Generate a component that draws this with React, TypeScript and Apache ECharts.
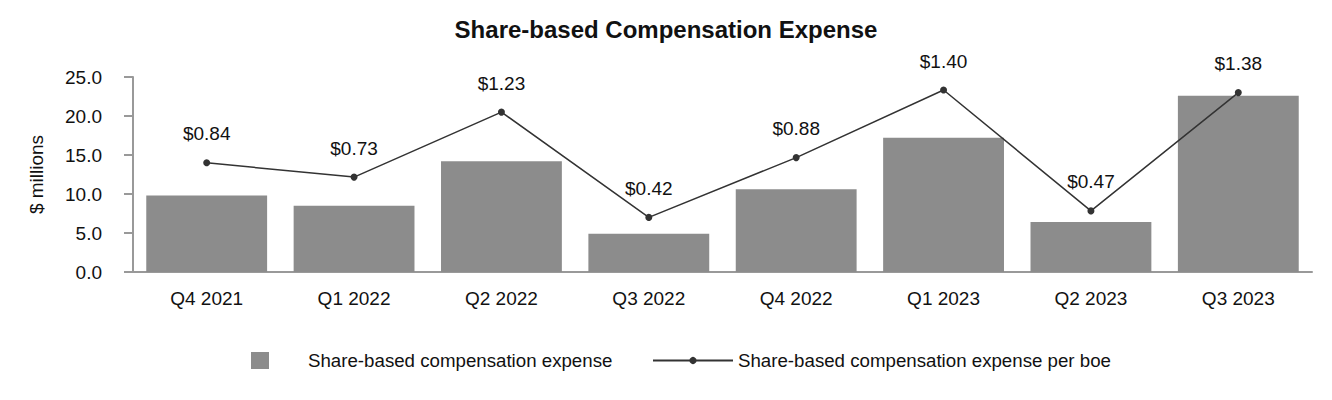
import React, { useEffect, useRef } from "react";
import * as echarts from "echarts";

const categories = ["Q4 2021", "Q1 2022", "Q2 2022", "Q3 2022", "Q4 2022", "Q1 2023", "Q2 2023", "Q3 2023"];
const expense = [9.8, 8.5, 14.2, 4.9, 10.6, 17.2, 6.4, 22.6];
const perBoe = [0.84, 0.73, 1.23, 0.42, 0.88, 1.4, 0.47, 1.38];
const yTicks = { min: 0, max: 25, interval: 5 };
const barName = "Share-based compensation expense";
const lineName = "Share-based compensation expense per boe";

export default function App() {
  const ref = useRef<HTMLDivElement>(null);
  useEffect(() => {
    document.body.style.margin = "0";
    if (!ref.current) return;
    const chart = echarts.init(ref.current, undefined, { renderer: "svg" });
    const font = "Liberation Sans, Arial, sans-serif";
    chart.setOption({
      animation: false,
      textStyle: { fontFamily: font },
      title: {
        text: "Share-based Compensation Expense",
        left: "center",
        top: 12,
        textStyle: { fontFamily: font, fontSize: 24, fontWeight: "bold", color: "#111" },
      },
      legend: [
        {
          data: [{ name: barName, icon: "rect" }],
          left: 246,
          top: 346,
          itemWidth: 18,
          itemHeight: 17,
          textStyle: { fontFamily: font, fontSize: 18.7, color: "#111", padding: [0, 0, 0, 34] },
        },
        {
          data: [{ name: lineName }],
          left: 647,
          top: 346,
          itemWidth: 80,
          itemHeight: 9,
          textStyle: { fontFamily: font, fontSize: 18.7, color: "#111" },
        },
      ],
      grid: { left: 133, right: 20, top: 77, bottom: 128 },
      xAxis: {
        type: "category",
        data: categories,
        axisLine: { lineStyle: { color: "#999", width: 2 } },
        axisTick: { alignWithLabel: true, length: 8, lineStyle: { color: "#999", width: 2 } },
        axisLabel: { fontFamily: font, fontSize: 19, color: "#111", margin: 17 },
      },
      yAxis: [
        {
          type: "value",
          min: yTicks.min,
          max: yTicks.max,
          interval: yTicks.interval,
          name: "$ millions",
          nameLocation: "middle",
          nameGap: 87,
          nameTextStyle: { fontFamily: font, fontSize: 19, color: "#111" },
          axisLine: { show: true, lineStyle: { color: "#999", width: 2 } },
          axisTick: { show: true, inside: false, length: 9, lineStyle: { color: "#999", width: 2 } },
          splitLine: { show: false },
          axisLabel: {
            fontFamily: font,
            fontSize: 19,
            color: "#111",
            margin: 31,
            formatter: (v: number) => v.toFixed(1),
          },
        },
        {
          type: "value",
          min: 0,
          max: 1.5,
          show: false,
          splitLine: { show: false },
        },
      ],
      series: [
        {
          name: barName,
          type: "bar",
          data: expense,
          barCategoryGap: "18%",
          itemStyle: { color: "#8c8c8c" },
        },
        {
          name: lineName,
          type: "line",
          yAxisIndex: 1,
          data: perBoe,
          symbol: "circle",
          symbolSize: 7,
          lineStyle: { color: "#333", width: 1.5 },
          itemStyle: { color: "#333" },
          label: {
            show: true,
            position: "top",
            distance: 16,
            fontFamily: font,
            fontSize: 19,
            color: "#111",
            formatter: (p: any) => "$" + Number(p.value).toFixed(2),
          },
        },
      ],
    });
    return () => chart.dispose();
  }, []);
  return <div ref={ref} style={{ width: 1332, height: 400 }} />;
}
